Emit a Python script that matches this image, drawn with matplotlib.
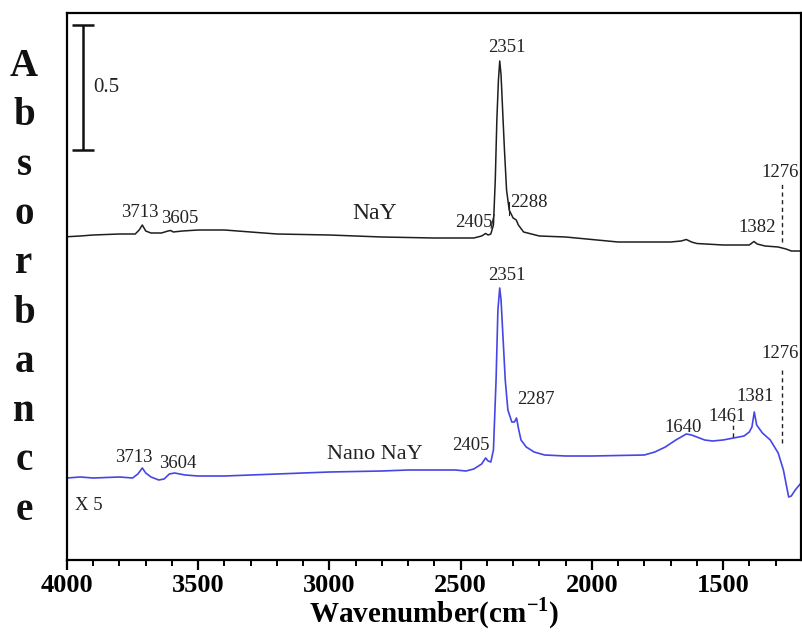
import matplotlib
matplotlib.use("Agg")
import matplotlib.pyplot as plt
from matplotlib.ticker import MultipleLocator

plt.rcParams['font.family'] = ['Liberation Serif', 'DejaVu Serif']
plt.rcParams['mathtext.fontset'] = 'custom'
plt.rcParams['mathtext.rm'] = 'Liberation Serif:bold'
plt.rcParams['mathtext.bf'] = 'Liberation Serif:bold'

# NaY spectrum (wavenumber, absorbance)
nay_wn = [4000, 3950, 3900, 3800, 3740, 3725, 3713, 3700, 3680, 3640, 3615, 3605,
          3595, 3560, 3500, 3400, 3350, 3300, 3200, 3000, 2800, 2600, 2450, 2420,
          2405, 2395, 2385, 2375, 2368, 2362, 2356, 2351, 2346, 2340, 2333, 2325,
          2315, 2300, 2288, 2280, 2260, 2230, 2200, 2100, 1900, 1700, 1660, 1640,
          1620, 1600, 1500, 1400, 1390, 1382, 1370, 1340, 1290, 1260, 1240, 1203]
nay_abs = [1.293, 1.296, 1.300, 1.304, 1.304, 1.320, 1.340, 1.316, 1.308, 1.308, 1.316, 1.318,
           1.312, 1.316, 1.320, 1.320, 1.316, 1.312, 1.304, 1.300, 1.292, 1.288, 1.288, 1.296,
           1.306, 1.300, 1.304, 1.340, 1.520, 1.760, 1.920, 1.996, 1.940, 1.800, 1.640, 1.480,
           1.400, 1.368, 1.360, 1.340, 1.312, 1.304, 1.296, 1.292, 1.272, 1.272, 1.276, 1.282,
           1.272, 1.266, 1.260, 1.260, 1.268, 1.274, 1.264, 1.256, 1.252, 1.244, 1.236, 1.236]

# Nano NaY spectrum (x5)
nano_wn = [4000, 3950, 3900, 3800, 3750, 3730, 3713, 3700, 3680, 3650, 3630, 3610,
           3590, 3550, 3500, 3400, 3300, 3100, 3000, 2800, 2700, 2600, 2520, 2480,
           2450, 2420, 2405, 2395, 2385, 2375, 2365, 2358, 2351, 2346, 2340, 2330,
           2320, 2305, 2295, 2287, 2280, 2270, 2250, 2220, 2180, 2100, 2000, 1800,
           1760, 1720, 1680, 1640, 1620, 1600, 1570, 1540, 1500, 1460, 1420, 1400,
           1390, 1381, 1372, 1350, 1320, 1290, 1270, 1250, 1240, 1225, 1203]
nano_abs = [0.328, 0.332, 0.328, 0.332, 0.328, 0.344, 0.368, 0.348, 0.332, 0.320, 0.324, 0.344,
            0.348, 0.340, 0.336, 0.336, 0.340, 0.348, 0.352, 0.356, 0.360, 0.360, 0.360, 0.356,
            0.364, 0.384, 0.408, 0.396, 0.392, 0.440, 0.720, 1.000, 1.088, 1.040, 0.920, 0.720,
            0.600, 0.552, 0.552, 0.568, 0.528, 0.480, 0.452, 0.432, 0.420, 0.416, 0.416, 0.420,
            0.432, 0.452, 0.480, 0.504, 0.500, 0.492, 0.480, 0.476, 0.480, 0.488, 0.496, 0.512,
            0.532, 0.592, 0.540, 0.508, 0.480, 0.428, 0.360, 0.252, 0.256, 0.280, 0.308]

# peak labels: (text, wavenumber, absorbance)
nay_labels = [("2351", 2323, 2.052), ("3713", 3722, 1.392), ("3605", 3569, 1.368),
              ("2405", 2449, 1.352), ("2288", 2239, 1.432), ("1382", 1370, 1.332),
              ("1276", 1283, 1.552)]
nano_labels = [("2351", 2323, 1.140), ("2287", 2213, 0.644), ("1640", 1652, 0.532),
               ("1461", 1485, 0.576), ("1381", 1378, 0.656), ("1276", 1283, 0.828),
               ("2405", 2460, 0.456), ("3713", 3745, 0.412), ("3604", 3577, 0.384)]
# dashed markers: (wavenumber, y0, y1)
markers = [(1276, 1.272, 1.512), (1276, 0.468, 0.760), (1461, 0.492, 0.560)]

fig = plt.figure(figsize=(8.02, 6.32), dpi=100)
ax = fig.add_axes([67 / 802, 72 / 632, 734 / 802, 547 / 632])

ax.plot(nay_wn, nay_abs, color='#1e1e1e', lw=1.1)
ax.plot(nano_wn, nano_abs, color='#4646e6', lw=1.2)

for t, x, y in nay_labels + nano_labels:
    ax.text(x, y, t, fontsize=13.5, ha='center', va='center', color='#222222')
ax.text(2826, 1.388, "NaY", fontsize=17, ha='center', va='center', color='#222222')
ax.text(2826, 0.424, "Nano NaY", fontsize=16, ha='center', va='center', color='#222222')
ax.text(3916, 0.220, "X 5", fontsize=13.5, ha='center', va='center', color='#222222')

for x, y0, y1 in markers:
    ax.plot([x, x], [y0, y1], color='#222222', lw=1.0, ls=(0, (3, 2.5)))

# little leader strokes next to 2405 / 2288 on the NaY trace
ax.plot([2384, 2373], [1.328, 1.380], color='#222222', lw=0.8)
ax.plot([2316, 2316], [1.380, 1.432], color='#222222', lw=0.8)

# 0.5 absorbance scale bar
ax.errorbar([3939], [1.89], yerr=[0.25], color='#111111', lw=1.8, capsize=8, capthick=1.8)
ax.text(3900, 1.892, "0.5", fontsize=15, ha='left', va='center', color='#222222')

ax.set_xlim(4000, 1203)
ax.set_ylim(0, 2.188)
ax.xaxis.set_major_locator(MultipleLocator(500))
ax.xaxis.set_minor_locator(MultipleLocator(100))
ax.tick_params(axis='x', which='major', direction='out', length=7, width=1.6,
               labelsize=19, pad=3)
ax.tick_params(axis='x', which='minor', direction='out', length=4.5, width=1.4)
ax.set_yticks([])
for lab in ax.get_xticklabels():
    lab.set_fontweight('bold')
for sp in ax.spines.values():
    sp.set_linewidth(1.6)

ax.set_xlabel(r"Wavenumber(cm$^{\mathbf{-1}}$)", fontsize=21, fontweight='bold', labelpad=-1)

# stacked y label
for i, ch in enumerate("Absorbance"):
    fig.text(24 / 802, 1 - (76 + i * 49.3) / 632, ch, fontsize=28, fontweight='bold',
             ha='center', va='baseline', color='#111111')

fig.savefig("out.png", dpi=100)
